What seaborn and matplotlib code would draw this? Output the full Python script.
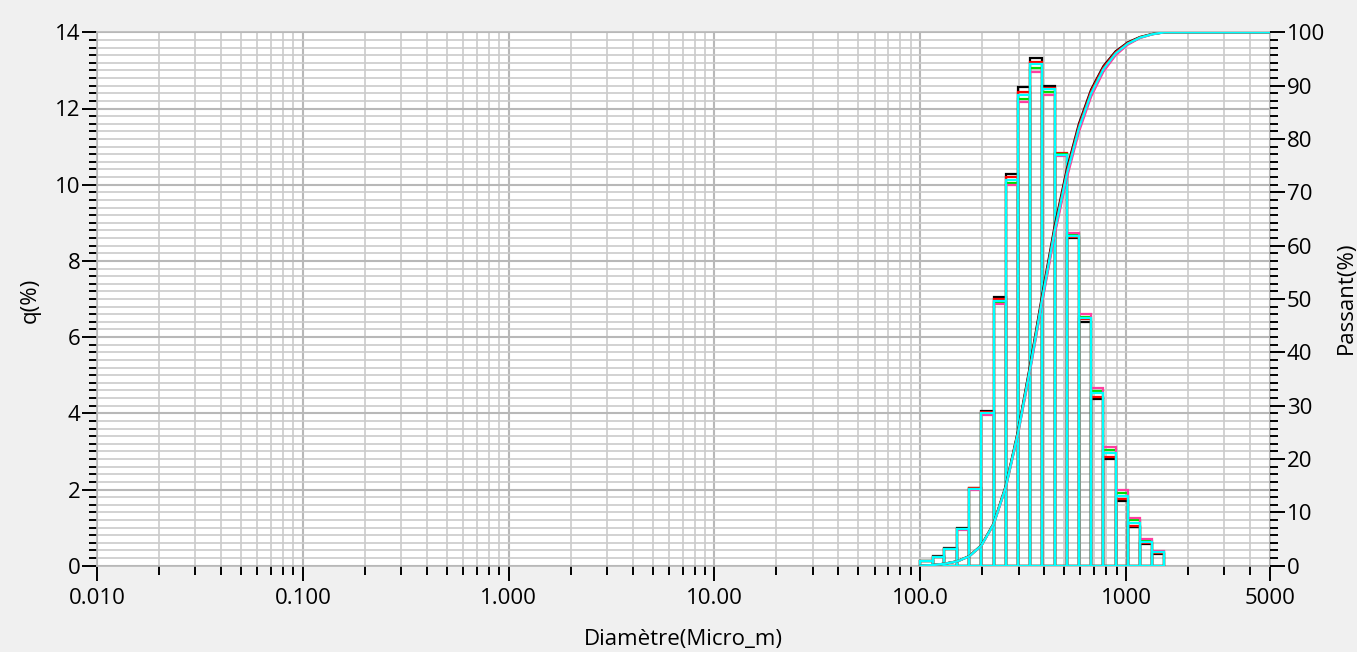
import numpy as np
import pandas as pd
import matplotlib
matplotlib.use("Agg")
import matplotlib.pyplot as plt
import seaborn as sns
from matplotlib.ticker import FixedLocator, MultipleLocator, NullFormatter, FixedFormatter

# ---- data ----
edges = [100, 115, 131, 151, 173, 198, 227, 260, 298, 342, 392,
         449, 515, 590, 676, 775, 889, 1019, 1168, 1339, 1534]

q_black = [0.13, 0.25, 0.46, 0.98, 2.05, 4.06, 7.06, 10.28, 12.56, 13.32,
           12.59, 10.78, 8.59, 6.39, 4.38, 2.80, 1.69, 1.01, 0.57, 0.31]
q_red   = [0.12, 0.24, 0.45, 0.97, 2.03, 4.03, 7.00, 10.19, 12.44, 13.21,
           12.55, 10.84, 8.63, 6.47, 4.44, 2.86, 1.75, 1.05, 0.60, 0.34]
q_green = [0.12, 0.24, 0.45, 0.96, 2.02, 3.99, 6.93, 10.05, 12.26, 13.06,
           12.44, 10.80, 8.70, 6.54, 4.59, 3.04, 1.92, 1.20, 0.65, 0.37]
q_pink  = [0.12, 0.24, 0.44, 0.95, 2.00, 3.96, 6.87, 9.99, 12.18, 12.97,
           12.35, 10.75, 8.72, 6.60, 4.66, 3.11, 1.99, 1.24, 0.69, 0.39]
q_cyan  = [0.12, 0.24, 0.45, 0.96, 2.02, 4.00, 6.95, 10.12, 12.35, 13.16,
           12.50, 10.78, 8.65, 6.50, 4.54, 2.97, 1.84, 1.13, 0.63, 0.37]

series = [q_black, q_red, q_green, q_pink, q_cyan]
colors = ["#000000", "#ff0000", "#00dd00", "#ff3fa0", "#00ffff"]

x_major = [0.01, 0.1, 1, 10, 100, 1000, 5000]
x_major_labels = ["0.010", "0.100", "1.000", "10.00", "100.0", "1000", "5000"]
x_min, x_max = 0.01, 5000

# ---- styling ----
sns.set_theme(style="ticks")
plt.rcParams['font.family'] = ['Open Sans', 'DejaVu Sans']

W, H = 1357, 652
fig = plt.figure(figsize=(W / 100, H / 100), dpi=100, facecolor="#f0f0f0")
L, R, T, B = 97, 1270, 32.3, 565.7
ax = fig.add_axes([L / W, 1 - B / H, (R - L) / W, (B - T) / H])
ax.set_facecolor("white")

edges_arr = np.array(edges, dtype=float)
centers = np.sqrt(edges_arr[:-1] * edges_arr[1:])
log_edges = np.log10(edges_arr).tolist()

for q, c in zip(series, colors):
    dfh = pd.DataFrame({"d": centers, "w": q})
    sns.histplot(data=dfh, x="d", weights="w", bins=log_edges, log_scale=True,
                 stat="count", element="bars", fill=False, color=c,
                 linewidth=1.6, ax=ax, zorder=3)

ax.set_xscale("log")
ax.set_xlim(x_min, x_max)
ax.set_ylim(0, 14)
ax.set_xlabel("")
ax.set_ylabel("")

# x ticks
minor_x = []
for dec in [0.01, 0.1, 1, 10, 100, 1000]:
    for m in range(2, 10):
        v = dec * m
        if v < x_max:
            minor_x.append(v)
ax.xaxis.set_major_locator(FixedLocator(x_major))
ax.xaxis.set_major_formatter(FixedFormatter(x_major_labels))
ax.xaxis.set_minor_locator(FixedLocator(minor_x))
ax.xaxis.set_minor_formatter(NullFormatter())

ax.yaxis.set_major_locator(MultipleLocator(2))
ax.yaxis.set_minor_locator(MultipleLocator(0.2))

ax.grid(which="major", color="#b8b8b8", linewidth=1.5)
ax.grid(which="minor", color="#cbcbcb", linewidth=1.2)
ax.set_axisbelow(True)

ax.tick_params(axis="x", which="major", direction="out", length=11, width=1.4,
               color="black", labelsize=16, pad=5, bottom=True, labelcolor="black")
ax.tick_params(axis="x", which="minor", direction="out", length=6.5, width=1.4,
               color="black", bottom=True)
ax.tick_params(axis="y", which="major", direction="out", length=11, width=1.4,
               color="black", labelsize=16, pad=1, left=True, labelcolor="black")
ax.tick_params(axis="y", which="minor", direction="out", length=6, width=1.4,
               color="black", left=True)
for s in ax.spines.values():
    s.set_color("#b8b8b8")
    s.set_linewidth(1.2)

# ---- cumulative (right axis) ----
ax2 = ax.twinx()
ax2.set_ylim(0, 100)
for q, c in zip(series, colors):
    qa = np.array(q)
    cum = np.cumsum(qa) / qa.sum() * 100
    xs = np.concatenate([edges_arr, [x_max]])
    ys = np.concatenate([[0.0], cum, [100.0]])
    df = pd.DataFrame({"d": xs, "p": ys})
    sns.lineplot(data=df, x="d", y="p", ax=ax2, color=c, linewidth=1.6,
                 estimator=None, sort=False)
ax2.set_xlim(x_min, x_max)
ax2.set_ylim(0, 100)
ax2.set_xlabel("")
ax2.set_ylabel("")
ax2.yaxis.set_major_locator(MultipleLocator(10))
ax2.yaxis.set_minor_locator(MultipleLocator(100 / 70))
ax2.tick_params(axis="y", which="major", direction="out", length=11, width=1.4,
                color="black", labelsize=16, pad=1, right=True, labelcolor="black")
ax2.tick_params(axis="y", which="minor", direction="out", length=6, width=1.4,
                color="black", right=True)
for s in ax2.spines.values():
    s.set_visible(False)

fig.text(30 / W, 1 - 300 / H, "q(%)", rotation=90, ha="center", va="center",
         fontsize=16, color="black")
fig.text(1346 / W, 1 - 298 / H, "Passant(%)", rotation=90, ha="center",
         va="center", fontsize=16, color="black")
fig.text(683 / W, 1 - 640 / H, "Diamètre(Micro_m)", ha="center", va="center",
         fontsize=16, color="black")

fig.savefig("out.png", dpi=100, facecolor=fig.get_facecolor())
